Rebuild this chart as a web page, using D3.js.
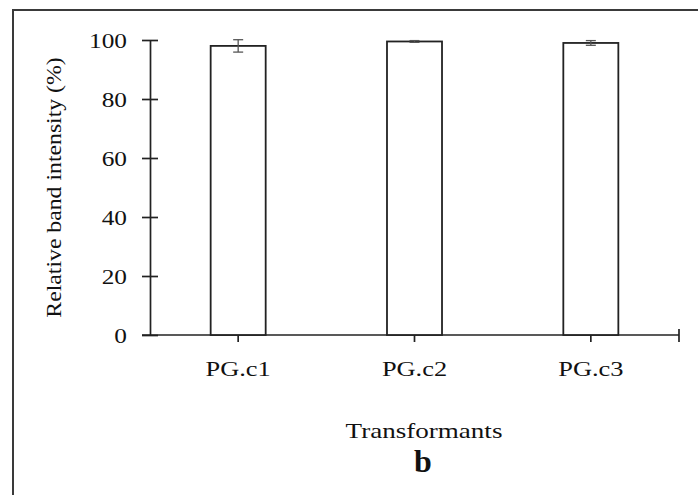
<!DOCTYPE html>
<html>
<head>
<meta charset="utf-8">
<script src="https://cdn.jsdelivr.net/npm/d3@7"></script>
<style>
  body { margin: 0; background: #fff; }
  svg text { font-family: "Liberation Serif", "Times New Roman", serif; fill: #111; }
</style>
</head>
<body>
<svg id="chart" width="698" height="495"></svg>
<script>
// data
const categories = ["PG.c1", "PG.c2", "PG.c3"];
const values = [98, 99.5, 99];
const errors = [2.1, 0.3, 0.8];
const yTicks = [0, 20, 40, 60, 80, 100];

const width = 698, height = 495;
const margin = { top: 40, right: 19, bottom: 160, left: 150 };
const svg = d3.select("#chart");

// frame around the figure (runs off right and bottom edges)
svg.append("rect")
    .attr("x", 13).attr("y", 10)
    .attr("width", 700).attr("height", 500)
    .attr("fill", "none")
    .attr("stroke", "#3a3a3a")
    .attr("stroke-width", 2);

let x = d3.scaleBand()
    .domain(categories)
    .range([margin.left, width - margin.right])
    .paddingInner(0.688)
    .paddingOuter(0.344);

let y = d3.scaleLinear()
    .domain([0, 100])
    .range([height - margin.bottom, margin.top]);

const y0 = y(0);

// y axis
let yAxis = (g) =>
    g.attr("transform", `translate(${margin.left},0)`)
        .call(d3.axisLeft(y).tickValues(yTicks).tickSizeInner(8).tickSizeOuter(0).tickPadding(0))
        .call((g) => g.select(".domain").attr("stroke", "#222").attr("stroke-width", 1.7))
        .call((g) => g.selectAll(".tick line")
            .attr("x1", 8).attr("x2", -8)
            .attr("stroke", "#222").attr("stroke-width", 1.7))
        .call((g) => g.selectAll(".tick text").remove());
svg.append("g").call(yAxis);

// y tick labels
svg.append("g")
    .selectAll("text")
    .data(yTicks)
    .join("text")
    .attr("transform", (d) => `translate(127,${y(d) + 7.5}) scale(1.15,1)`)
    .attr("text-anchor", "end")
    .style("font-size", "22px")
    .text((d) => d);

// x axis line, ticks at category centres + end tick
svg.append("line")
    .attr("x1", margin.left - 8).attr("x2", width - margin.right)
    .attr("y1", y0).attr("y2", y0)
    .attr("stroke", "#222").attr("stroke-width", 1.7);

svg.append("g")
    .selectAll("line")
    .data(categories)
    .join("line")
    .attr("x1", (d) => x(d) + x.bandwidth() / 2)
    .attr("x2", (d) => x(d) + x.bandwidth() / 2)
    .attr("y1", y0 - 6).attr("y2", y0 + 7)
    .attr("stroke", "#222").attr("stroke-width", 1.7);

svg.append("line")
    .attr("x1", width - margin.right).attr("x2", width - margin.right)
    .attr("y1", y0 - 6).attr("y2", y0 + 7)
    .attr("stroke", "#222").attr("stroke-width", 1.7);

// bars
svg.append("g")
    .selectAll("rect")
    .data(categories)
    .join("rect")
    .attr("x", (d) => x(d))
    .attr("y", (d, i) => y(values[i]))
    .attr("width", x.bandwidth())
    .attr("height", (d, i) => y0 - y(values[i]))
    .attr("fill", "#fff")
    .attr("stroke", "#222")
    .attr("stroke-width", 1.8);

// error bars
const eb = svg.append("g").attr("stroke", "#555").attr("stroke-width", 1.3);
categories.forEach((c, i) => {
    const cx = x(c) + x.bandwidth() / 2;
    const hi = y(values[i] + errors[i]);
    const lo = y(values[i] - errors[i]);
    eb.append("line").attr("x1", cx).attr("x2", cx).attr("y1", hi).attr("y2", lo);
    eb.append("line").attr("x1", cx - 5).attr("x2", cx + 5).attr("y1", hi).attr("y2", hi);
    eb.append("line").attr("x1", cx - 5).attr("x2", cx + 5).attr("y1", lo).attr("y2", lo);
});

// category labels
svg.append("g")
    .selectAll("text")
    .data(categories)
    .join("text")
    .attr("transform", (d) => `translate(${x(d) + x.bandwidth() / 2},376) scale(1.2,1)`)
    .attr("text-anchor", "middle")
    .style("font-size", "22px")
    .text((d) => d);

// axis titles
svg.append("text")
    .attr("transform", `translate(424,438) scale(1.23,1)`)
    .attr("text-anchor", "middle")
    .style("font-size", "22px")
    .text("Transformants");

svg.append("text")
    .attr("transform", `translate(61,${(y(0) + y(100)) / 2}) rotate(-90) scale(1.08,1)`)
    .attr("text-anchor", "middle")
    .style("font-size", "22px")
    .text("Relative band intensity (%)");

svg.append("text")
    .attr("transform", `translate(423,472)`)
    .attr("text-anchor", "middle")
    .style("font-size", "32px")
    .style("font-weight", "bold")
    .text("b");
</script>
</body>
</html>
